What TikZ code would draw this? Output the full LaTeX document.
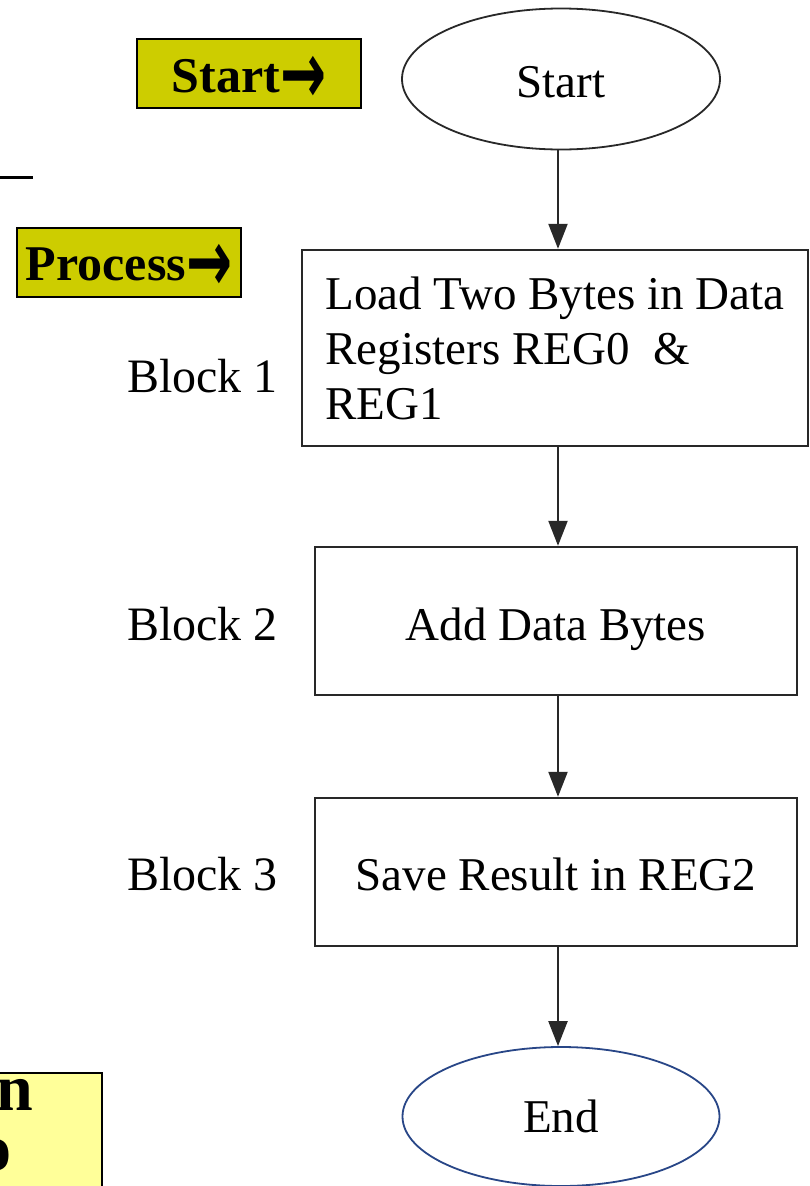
\documentclass[tikz,border=0pt]{standalone}
\usepackage{fontspec}
\usepackage{graphicx}
\setmainfont{Liberation Serif}
\newfontfamily\symfont{DejaVu Sans}
\usetikzlibrary{shapes.geometric,arrows.meta}
\definecolor{olivelabel}{RGB}{205,205,0}
\definecolor{notefill}{RGB}{255,255,153}
\definecolor{flowline}{RGB}{40,40,40}
\definecolor{endblue}{RGB}{40,70,135}
\newcommand{\heavyarrow}{\raisebox{-0.22em}{\scalebox{1.1}[1.75]{\symfont\bfseries →}}}
\begin{document}
\begin{tikzpicture}[x=1pt,y=-1pt,
  flowbox/.style={rectangle, draw=flowline, line width=2.4pt, inner sep=0pt,
    font=\fontsize{47}{55}\selectfont},
  terminal/.style={ellipse, draw=flowline, line width=1.8pt, inner sep=0pt,
    font=\fontsize{47}{55}\selectfont},
  baseshift/.style={text height=#1pt, text depth=0pt},
  tag/.style={rectangle, draw=black, line width=2pt, fill=olivelabel,
    minimum width=224pt, minimum height=69pt, inner sep=0pt,
    font=\fontsize{50}{56}\selectfont\bfseries},
  blocklabel/.style={anchor=base west, inner sep=0pt,
    font=\fontsize{48}{56}\selectfont},
  notetext/.style={anchor=base east, inner sep=0pt,
    font=\fontsize{66}{66}\selectfont\bfseries},
  flow/.style={draw=flowline, line width=2.2pt,
    -{Triangle[length=25pt,width=19pt]}}
]
\useasboundingbox (0,0) rectangle (810,1186);
\clip (0,0) rectangle (810,1186);
\fill[white] (0,0) rectangle (810,1186);

% side tags
\node[tag, baseshift=37] (starttag) at (249,73.5) {Start\heavyarrow};
\node[tag, baseshift=35] (proctag) at (129,262.5) {Process\heavyarrow};

% stub of a rule at the left edge
\coordinate (stubL) at (0,177);
\coordinate (stubR) at (33,177);
\draw[line width=3pt] (stubL) -- (stubR);

% flowchart
\coordinate (spine) at (558,0);
\node[terminal, minimum width=318pt, minimum height=141pt, baseshift=36] (start) at (561,79) {Start};
\node[flowbox, minimum width=506pt, minimum height=196pt, align=left] (b1) at (555,348)
  {Load Two Bytes in Data\\Registers REG0\ \ \&\\REG1};
\node[flowbox, minimum width=482pt, minimum height=148pt, baseshift=38] (b2) at (556,621) {Add Data Bytes};
\node[flowbox, minimum width=482pt, minimum height=148pt, baseshift=36] (b3) at (556,872) {Save Result in REG2};
\node[terminal, draw=endblue, minimum width=317pt, minimum height=139pt, baseshift=32] (end) at (561,1116.5) {End};

\node[blocklabel] (lab1) at (127,392) {Block 1};
\node[blocklabel] (lab2) at (127,640) {Block 2};
\node[blocklabel] (lab3) at (127,890) {Block 3};

\draw[flow] (start.south -| spine) -- (b1.north -| spine);
\draw[flow] (b1.south -| spine) -- (b2.north -| spine);
\draw[flow] (b2.south -| spine) -- (b3.north -| spine);
\draw[flow] (b3.south -| spine) -- (end.north -| spine);

% note box cut by the left and bottom edges
\node[rectangle, draw=black, line width=2pt, fill=notefill, anchor=north east,
  minimum width=180pt, minimum height=160pt] (note) at (103,1072) {};
\node[notetext] (notea) at (33,1110) {an};
\node[notetext] (noteb) at (12,1170) {o};
\end{tikzpicture}
\end{document}
